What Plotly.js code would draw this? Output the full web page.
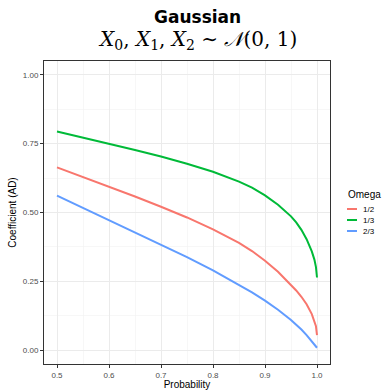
<!DOCTYPE html>
<html>
<head>
<meta charset="utf-8">
<script src="https://cdn.plot.ly/plotly-3.0.1.min.js"></script>
<style>html,body{margin:0;padding:0;background:#fff;}#chart{width:382px;height:390px;}</style>
</head>
<body>
<div id="chart"></div>
<script>
// Data
const probability    = [0.50, 0.55, 0.60, 0.65, 0.70, 0.75, 0.80, 0.85, 0.875, 0.90, 0.925, 0.95, 0.96, 0.97, 0.98, 0.99, 0.995, 0.998, 1.00];
const omegaHalf      = [0.664, 0.629, 0.594, 0.558, 0.521, 0.482, 0.439, 0.390, 0.360, 0.325, 0.285, 0.238, 0.217, 0.194, 0.167, 0.131, 0.108, 0.087, 0.055];
const omegaThird     = [0.794, 0.772, 0.750, 0.727, 0.703, 0.677, 0.648, 0.612, 0.590, 0.562, 0.528, 0.486, 0.464, 0.437, 0.403, 0.359, 0.329, 0.302, 0.264];
const omegaTwoThirds = [0.561, 0.517, 0.473, 0.429, 0.384, 0.338, 0.290, 0.238, 0.210, 0.180, 0.147, 0.110, 0.093, 0.075, 0.055, 0.034, 0.022, 0.014, 0.009];
const seriesNames = ["1/2", "1/3", "2/3"];
const seriesColors = ["#F8766D", "#00BA38", "#619CFF"];
const seriesValues = [omegaHalf, omegaThird, omegaTwoThirds];
const xTicks = [0.5, 0.6, 0.7, 0.8, 0.9, 1.0];
const yTicks = [0, 0.25, 0.5, 0.75, 1.0];

const traces = seriesValues.map((v, i) => ({
  x: probability, y: v, type: "scatter", mode: "lines", name: seriesNames[i],
  line: {color: seriesColors[i], width: 2, shape: "linear"},
  showlegend: false
}));

const W = 382, H = 390;
const mL = 44, mR = 52, mT = 61, mB = 26;
const pw = W - mL - mR, ph = H - mT - mB;

const annotations = [
  {text: "<b>Gaussian</b>", xref: "paper", yref: "paper", x: (197 - mL) / pw, y: 1 + (mT - 17) / ph,
   xanchor: "center", yanchor: "middle", showarrow: false, font: {family: "DejaVu Sans, sans-serif", size: 17, color: "#000"}},
  {text: "<i>X</i><sub>0</sub>, <i>X</i><sub>1</sub>, <i>X</i><sub>2</sub> ∼ <i>𝒩</i>(0, 1)", xref: "paper", yref: "paper",
   x: (197 - mL) / pw, y: 1 + (mT - 40) / ph,
   xanchor: "center", yanchor: "middle", showarrow: false, font: {family: "DejaVu Serif, serif", size: 20, color: "#000"}},
  {text: "Omega", xref: "paper", yref: "paper", x: (346 - mL) / pw, y: (H - mB - 194) / ph,
   xanchor: "left", yanchor: "middle", showarrow: false, font: {family: "Liberation Sans, Arial, sans-serif", size: 10, color: "#000"}}
];
const legendY = [209, 220, 231];
const shapes = [];
seriesNames.forEach((n, i) => {
  annotations.push({text: n, xref: "paper", yref: "paper", x: (361 - mL) / pw, y: (H - mB - legendY[i]) / ph,
    xanchor: "left", yanchor: "middle", showarrow: false, font: {family: "Liberation Sans, Arial, sans-serif", size: 8, color: "#000"}});
  shapes.push({type: "line", xref: "paper", yref: "paper",
    x0: (347 - mL) / pw, x1: (357 - mL) / pw,
    y0: (H - mB - legendY[i]) / ph, y1: (H - mB - legendY[i]) / ph,
    line: {color: seriesColors[i], width: 2}});
});

const axisCommon = {
  showline: true, mirror: true, linecolor: "#333333", linewidth: 1,
  showgrid: true, gridcolor: "#EBEBEB", gridwidth: 1,
  zeroline: false, ticks: "outside", ticklen: 3, tickcolor: "#333333", tickwidth: 1,
  tickfont: {family: "Liberation Sans, Arial, sans-serif", size: 8, color: "#4D4D4D"}
};

const layout = {
  width: W, height: H,
  margin: {l: mL, r: mR, t: mT, b: mB, pad: 0},
  paper_bgcolor: "#fff", plot_bgcolor: "#fff",
  showlegend: false,
  xaxis: Object.assign({}, axisCommon, {
    range: [0.475, 1.025], tickvals: xTicks, ticktext: xTicks.map(v => v.toFixed(1)),
    minor: {showgrid: true, gridcolor: "#F2F2F2", gridwidth: 0.6, tickvals: [0.55, 0.65, 0.75, 0.85, 0.95], ticks: ""},
    title: {text: "Probability", font: {family: "Liberation Sans, Arial, sans-serif", size: 10, color: "#000"}, standoff: 2}
  }),
  yaxis: Object.assign({}, axisCommon, {
    range: [-0.05, 1.05], tickvals: yTicks, ticktext: yTicks.map(v => v.toFixed(2)),
    minor: {showgrid: true, gridcolor: "#F2F2F2", gridwidth: 0.6, tickvals: [0.125, 0.375, 0.625, 0.875], ticks: ""},
    title: {text: "Coefficient (AD)", font: {family: "Liberation Sans, Arial, sans-serif", size: 10, color: "#000"}, standoff: 4}
  }),
  annotations: annotations,
  shapes: shapes
};

Plotly.newPlot("chart", traces, layout, {displayModeBar: false, staticPlot: true});
</script>
</body>
</html>
